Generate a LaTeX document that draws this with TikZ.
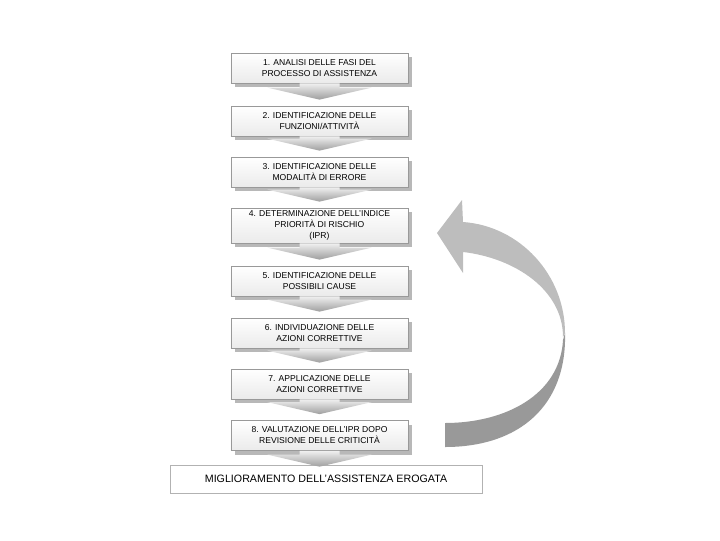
\documentclass[tikz,border=0pt]{standalone}
\usepackage{fontspec}
\setmainfont{Liberation Sans}
\usetikzlibrary{calc,shadows}

% block arrow between two steps
\newcommand\freccia[3][0.15cm]{%
  \path[chevron] let \p1=(#2.south), \p2=(#3.north) in
    (\x1-0.5cm,\y1) -- (\x1-0.5cm,\y2+#1+0.3cm) -- (\x1-1.3cm,\y2+#1+0.3cm)
    -- (\x1,\y2+#1) -- (\x1+1.3cm,\y2+#1+0.3cm) -- (\x1+0.5cm,\y2+#1+0.3cm)
    -- (\x1+0.5cm,\y1) -- cycle;}

\begin{document}
\begin{tikzpicture}[x=0.025cm, y=-0.025cm,
        fase/.style={rectangle, draw=black!40, line width=0.5pt,
          top color=white, bottom color=black!8,
          minimum width=4.425cm, minimum height=0.75cm, inner sep=0pt,
          align=center, text=black, font=\fontsize{6.1}{7.8}\selectfont,
          drop shadow={shadow xshift=0.11cm, shadow yshift=-0.11cm, fill=black!28, opacity=1}},
        esito/.style={rectangle, draw=black!30, line width=0.5pt, fill=white,
          minimum width=7.8cm, minimum height=0.7cm, inner sep=0pt,
          text=black, font=\fontsize{7.6}{9}\selectfont},
        chevron/.style={top color=black!6, bottom color=black!38},
        ritorno/.style={fill=black!26},
        risvolto/.style={fill=black!40}]
        \useasboundingbox (0,0) rectangle (720,540);

        % Steps of the process
        \node[fase] (fase1) at (319.5,68) {1. ANALISI DELLE FASI DEL\\PROCESSO DI ASSISTENZA};
        \node[fase] (fase2) at (319.5,121) {2. IDENTIFICAZIONE DELLE\\FUNZIONI/ATTIVITÀ};
        \node[fase] (fase3) at (319.5,172) {3. IDENTIFICAZIONE DELLE\\MODALITÀ DI ERRORE};
        \node[fase, minimum height=0.875cm] (fase4) at (319.5,225.5) {4. DETERMINAZIONE DELL'INDICE\\PRIORITÀ DI RISCHIO\\(IPR)};
        \node[fase] (fase5) at (319.5,281) {5. IDENTIFICAZIONE DELLE\\POSSIBILI CAUSE};
        \node[fase] (fase6) at (319.5,333) {6. INDIVIDUAZIONE DELLE\\AZIONI CORRETTIVE};
        \node[fase] (fase7) at (319.5,384) {7. APPLICAZIONE DELLE\\AZIONI CORRETTIVE};
        \node[fase] (fase8) at (319.5,435.5) {8. VALUTAZIONE DELL'IPR DOPO\\REVISIONE DELLE CRITICITÀ};

        % Outcome
        \node[esito] (esito) at (326,479) {MIGLIORAMENTO DELL'ASSISTENZA EROGATA};

        % Arrows
        \foreach \a/\b in {fase1/fase2, fase2/fase3, fase3/fase4, fase4/fase5,
                           fase5/fase6, fase6/fase7, fase7/fase8}
            \freccia{\a}{\b};
        \freccia[-0.05cm]{fase8}{esito};

        % Return arrow from step 8 back to step 4
        \coordinate (punta) at (437,233);
        \coordinate (coda) at (445,447);
        \fill[risvolto] (565,333) .. controls (567,405) and (520,447) .. (coda)
            -- (445,423) .. controls (505,423) and (560,395) .. (563,340) -- cycle;
        \fill[ritorno] (punta) -- (462,200) -- (463,222)
            .. controls (520,226) and (565,275) .. (565,333) -- (563,337)
            .. controls (563,290) and (515,258) .. (463,252) -- (463,273) -- cycle;
    \end{tikzpicture}
\end{document}
